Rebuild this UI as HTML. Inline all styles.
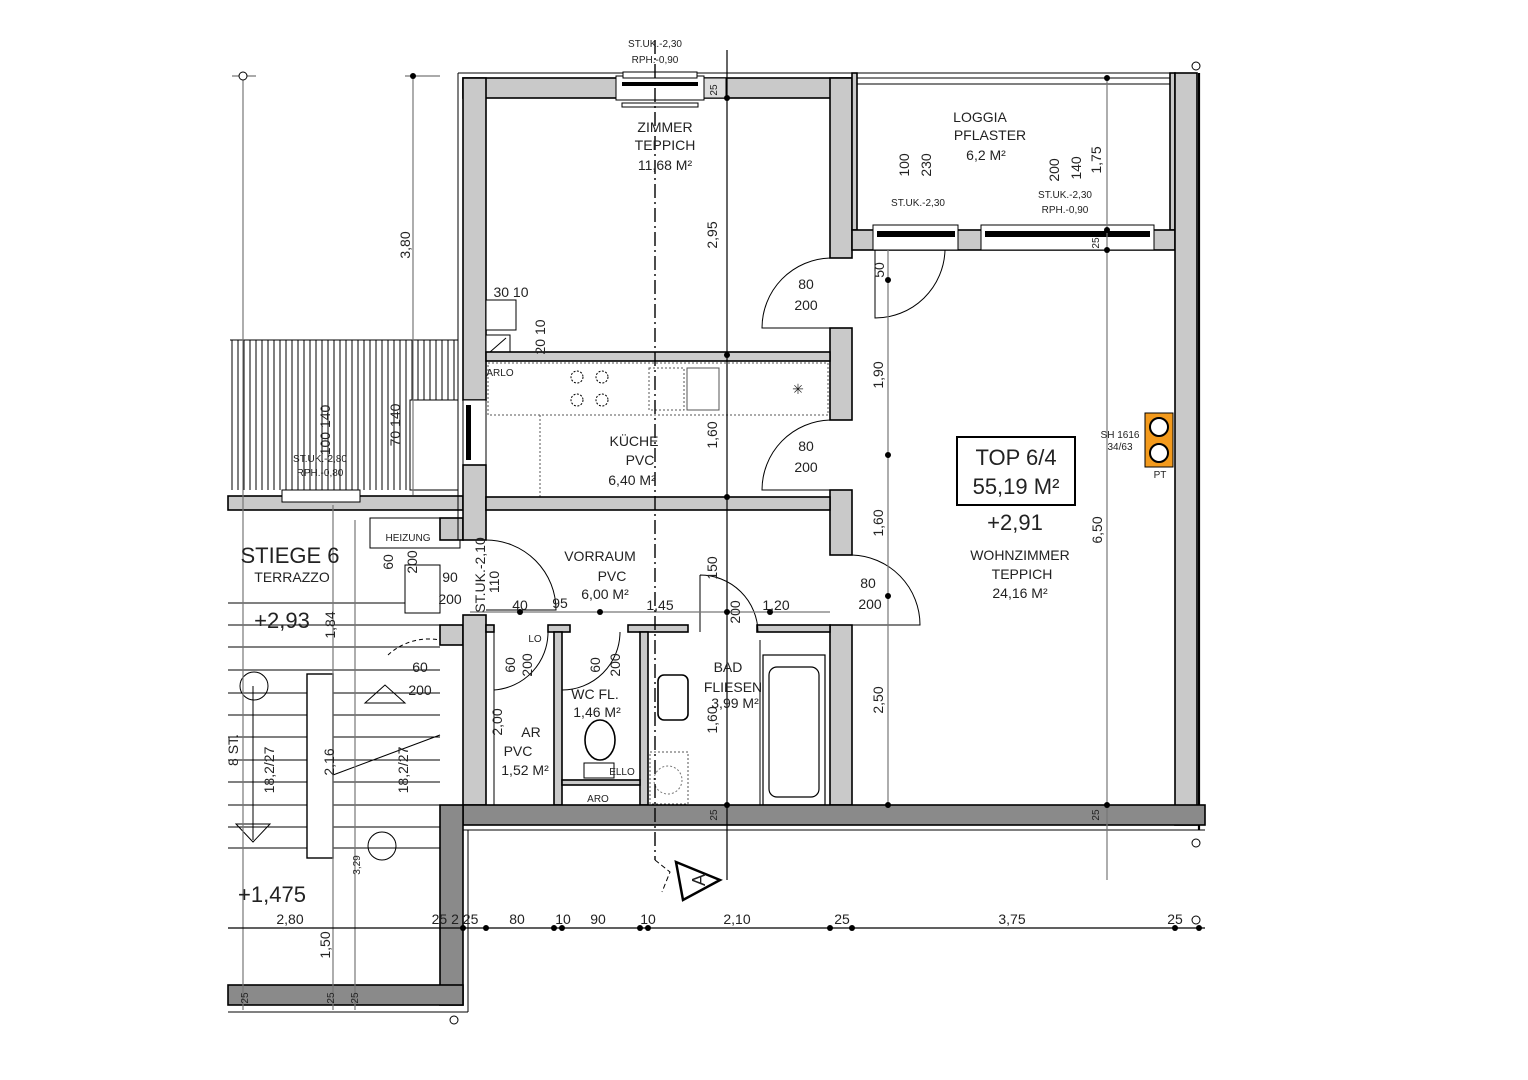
<!DOCTYPE html>
<html><head><meta charset="utf-8"><style>
html,body{margin:0;padding:0;background:#fff;}
svg{display:block}
text{font-family:"Liberation Sans Narrow","Liberation Sans",sans-serif;fill:#222;}
.t{font-size:14px;text-anchor:middle}
.s{font-size:10px;text-anchor:middle}
.b{font-size:22px;text-anchor:middle}
.w{fill:#c9c9c9;stroke:#000;stroke-width:1.6}
.d{fill:#8a8a8a;stroke:#000;stroke-width:1.6}
.l{stroke:#000;stroke-width:1;fill:none}
.g{stroke:#777;stroke-width:1.2;fill:none}
.k{stroke:#000;stroke-width:2.2;fill:none}
.dot{fill:#000}
</style></head><body>
<svg width="1528" height="1080" viewBox="0 0 1528 1080" xmlns="http://www.w3.org/2000/svg">
<rect width="1528" height="1080" fill="#fff"/>

<g stroke="#000" stroke-width="1">
<line x1="230" y1="340" x2="458" y2="340"/>
<path d="M232 340V490M238 340V490M244 340V490M250 340V490M256 340V490M262 340V490M268 340V490M274 340V490M280 340V490M286 340V490M292 340V490M298 340V490M304 340V490M310 340V490M316 340V490M322 340V490M328 340V490M334 340V490M340 340V490M346 340V490M352 340V490M358 340V490M364 340V490M370 340V490M376 340V490M382 340V490M388 340V490M394 340V490M400 340V490M406 340V490M412 340V490M418 340V490M424 340V490M430 340V490M436 340V490M442 340V490M448 340V490M454 340V490"/>
</g>
<rect x="228" y="496" width="235" height="14" class="w"/>
<rect x="282" y="490" width="78" height="12" fill="#fff" stroke="#000"/>
<rect x="410" y="400" width="48" height="90" fill="#fff" stroke="#000"/>

<g stroke="#000" stroke-width="1">
<line x1="228" y1="603" x2="440" y2="603"/><line x1="228" y1="625" x2="440" y2="625"/>
<line x1="228" y1="647" x2="440" y2="647"/><line x1="228" y1="670" x2="440" y2="670"/>
<line x1="228" y1="693" x2="440" y2="693"/><line x1="228" y1="715" x2="440" y2="715"/>
<line x1="228" y1="737" x2="440" y2="737"/><line x1="228" y1="760" x2="440" y2="760"/>
<line x1="228" y1="782" x2="440" y2="782"/><line x1="228" y1="805" x2="440" y2="805"/>
<line x1="228" y1="827" x2="440" y2="827"/><line x1="228" y1="848" x2="440" y2="848"/>
</g>
<rect x="307" y="674" width="26" height="184" fill="#fff" stroke="#000" stroke-width="1.4"/>
<line x1="333" y1="775" x2="440" y2="735" class="l"/>
<path d="M365 703 L385 685 L405 703 Z" class="l"/>
<circle cx="254" cy="686" r="14" class="l"/><circle cx="382" cy="846" r="14" class="l"/>
<path d="M236 824 L270 824 L253 842 Z" class="l"/>
<line x1="253" y1="686" x2="253" y2="840" class="l"/>
<rect x="405" y="565" width="35" height="48" fill="#fff" stroke="#000"/>
<rect x="370" y="518" width="90" height="30" fill="#fff" stroke="#000"/>
<path d="M388 655 A60 60 0 0 1 440 640" class="l" stroke-dasharray="4 3"/>
<rect x="440" y="625" width="23" height="20" class="w"/>
<rect x="440" y="518" width="23" height="22" class="w"/>

<line x1="458" y1="73" x2="852" y2="73" class="l" stroke-width="1.4"/>
<line x1="458" y1="73" x2="458" y2="540" class="l" stroke-width="1.4"/>
<rect x="463" y="78" width="389" height="20" class="w"/>
<rect x="616" y="76" width="88" height="24" fill="#fff" stroke="#000"/>
<rect x="622" y="82" width="76" height="4" fill="#000"/>
<rect x="622" y="103" width="76" height="4" fill="#fff" stroke="#000"/>
<rect x="623" y="72" width="74" height="6" fill="#fff" stroke="#000"/>
<rect x="704" y="78" width="22" height="20" fill="#ddd" stroke="#000"/>
<rect x="463" y="78" width="23" height="322" class="w"/>
<rect x="463" y="400" width="23" height="65" fill="#fff" stroke="#000"/>
<rect x="466" y="405" width="5" height="55" fill="#000"/>
<rect x="463" y="465" width="23" height="75" class="w"/>
<rect x="463" y="615" width="23" height="190" class="w"/>
<rect x="486" y="300" width="30" height="30" fill="#fff" stroke="#000"/>
<rect x="486" y="335" width="24" height="20" fill="#fff" stroke="#000"/>
<line x1="490" y1="352" x2="506" y2="338" class="l"/>
<rect x="830" y="78" width="22" height="180" class="w"/>
<rect x="830" y="328" width="22" height="92" class="w"/>
<rect x="830" y="490" width="22" height="65" class="w"/>
<rect x="830" y="625" width="22" height="180" class="w"/>
<rect x="486" y="352" width="344" height="9" fill="#ccc" stroke="#000" stroke-width="1.6"/>
<rect x="488" y="363" width="340" height="52" fill="none" stroke="#555" stroke-dasharray="2 2"/>
<path d="M540 415 V497" stroke="#555" stroke-dasharray="2 2" fill="none"/>
<g class="l" stroke-dasharray="2 1.5"><circle cx="577" cy="377" r="6"/><circle cx="602" cy="377" r="6"/><circle cx="577" cy="400" r="6"/><circle cx="602" cy="400" r="6"/></g>
<rect x="649" y="368" width="35" height="42" fill="none" stroke="#555" stroke-dasharray="2 2"/>
<rect x="687" y="368" width="32" height="42" fill="none" stroke="#555"/>
<text x="798" y="394" class="t">✳</text>
<rect x="486" y="497" width="344" height="13" class="w"/>
<rect x="486" y="625" width="8" height="7" class="w"/>
<rect x="548" y="625" width="22" height="7" class="w"/>
<rect x="628" y="625" width="60" height="7" class="w"/>
<rect x="757" y="625" width="73" height="7" class="w"/>
<rect x="554" y="632" width="8" height="173" class="w"/>
<rect x="640" y="632" width="8" height="173" class="w"/>
<rect x="562" y="780" width="78" height="5" class="w"/>
<line x1="760" y1="640" x2="760" y2="805" class="l"/>
<line x1="486" y1="632" x2="486" y2="805" class="l"/>
<line x1="494" y1="632" x2="494" y2="805" class="l"/>
<rect x="763" y="655" width="62" height="150" fill="#fff" stroke="#000" stroke-width="1.2"/>
<rect x="769" y="667" width="50" height="130" rx="8" fill="#fff" stroke="#000" stroke-width="1.2"/>
<rect x="658" y="675" width="30" height="45" rx="6" fill="#fff" stroke="#000" stroke-width="1.6"/>
<ellipse cx="600" cy="740" rx="15" ry="20" fill="#fff" stroke="#000" stroke-width="1.6"/>
<rect x="584" y="763" width="30" height="15" fill="#fff" stroke="#000"/>
<rect x="650" y="752" width="38" height="52" fill="none" stroke="#555" stroke-dasharray="2 2"/>
<circle cx="668" cy="780" r="14" fill="none" stroke="#777" stroke-dasharray="2 2"/>
<line x1="852" y1="73" x2="1175" y2="73" class="l"/>
<rect x="857" y="78" width="313" height="6" fill="#fff" stroke="#000"/>
<rect x="852" y="73" width="5" height="157" class="w"/>
<rect x="1170" y="73" width="5" height="157" class="w"/>
<rect x="852" y="230" width="323" height="20" class="w"/>
<rect x="873" y="225" width="85" height="25" fill="#fff" stroke="#000"/>
<rect x="877" y="231" width="78" height="6" fill="#000"/>
<rect x="981" y="225" width="173" height="25" fill="#fff" stroke="#000"/>
<rect x="985" y="231" width="165" height="6" fill="#000"/>
<rect x="1175" y="73" width="22" height="752" class="w"/>
<line x1="1199" y1="73" x2="1199" y2="830" class="k" stroke-width="3"/>
<rect x="463" y="805" width="742" height="20" class="d"/>
<line x1="463" y1="830" x2="1205" y2="830" class="l" stroke-width="1.4"/>
<rect x="440" y="805" width="23" height="200" class="d"/>
<rect x="228" y="985" width="235" height="20" class="d"/>
<line x1="468" y1="830" x2="468" y2="1012" class="l"/>
<line x1="228" y1="1012" x2="468" y2="1012" class="l"/>

<g class="l">
<path d="M830 258 A70 70 0 0 0 762 328 L830 328"/>
<path d="M830 420 A70 70 0 0 0 762 490 L830 490"/>
<path d="M852 555 A70 70 0 0 1 920 625 L852 625"/>
<path d="M875 250 L875 318 A70 70 0 0 0 945 250"/>
<path d="M486 540 A70 70 0 0 1 556 610 L486 610"/>
<path d="M494 632 V690 A58 58 0 0 0 548 632"/>
<path d="M562 632 V690 A58 58 0 0 0 620 632"/>
<path d="M700 575 A58 58 0 0 1 758 632 M700 575 V632"/>
</g>

<g class="g">
<line x1="243" y1="75" x2="243" y2="1010"/>
<line x1="413" y1="76" x2="413" y2="495"/>
<line x1="232" y1="76" x2="256" y2="76"/><line x1="405" y1="76" x2="440" y2="76"/>
<line x1="888" y1="250" x2="888" y2="805"/>
<line x1="1107" y1="78" x2="1107" y2="880"/>
<line x1="355" y1="520" x2="355" y2="1010"/>
<line x1="333" y1="505" x2="333" y2="1010"/>
<line x1="470" y1="612" x2="830" y2="612"/>
<line x1="228" y1="928" x2="1205" y2="928" stroke="#000"/>
</g>
<line x1="727" y1="50" x2="727" y2="880" stroke="#000" stroke-width="1.2"/>
<line x1="655" y1="40" x2="655" y2="860" stroke="#000" stroke-width="1.4" stroke-dasharray="14 4 2 4"/>
<path d="M655 860 L670 872 L662 892" class="l" stroke-dasharray="5 3"/>
<g class="dot">
<circle cx="413" cy="76" r="3"/><circle cx="727" cy="98" r="3"/><circle cx="727" cy="355" r="3"/><circle cx="727" cy="497" r="3"/><circle cx="727" cy="612" r="3"/><circle cx="727" cy="805" r="3"/>
<circle cx="888" cy="280" r="3"/><circle cx="888" cy="455" r="3"/><circle cx="888" cy="596" r="3"/><circle cx="888" cy="805" r="3"/>
<circle cx="1107" cy="78" r="3"/><circle cx="1107" cy="230" r="3"/><circle cx="1107" cy="250" r="3"/><circle cx="1107" cy="805" r="3"/>
<circle cx="463" cy="928" r="3"/><circle cx="486" cy="928" r="3"/><circle cx="554" cy="928" r="3"/><circle cx="562" cy="928" r="3"/><circle cx="640" cy="928" r="3"/><circle cx="648" cy="928" r="3"/><circle cx="830" cy="928" r="3"/><circle cx="852" cy="928" r="3"/><circle cx="1175" cy="928" r="3"/><circle cx="1199" cy="928" r="3"/>
<circle cx="520" cy="612" r="3"/><circle cx="600" cy="612" r="3"/><circle cx="770" cy="612" r="3"/>
</g>
<g fill="#fff" stroke="#000"><circle cx="243" cy="76" r="4"/><circle cx="1196" cy="66" r="4"/><circle cx="1196" cy="843" r="4"/><circle cx="454" cy="1020" r="4"/><circle cx="1196" cy="920" r="4"/></g>

<path d="M676 862 L720 880 L683 900 Z" fill="#fff" stroke="#000" stroke-width="2.5"/>
<text x="0" y="0" font-size="18" text-anchor="middle" transform="translate(699 880) rotate(-90) translate(0 6)">A</text>

<rect x="957" y="437" width="118" height="68" fill="#fff" stroke="#000" stroke-width="2"/>
<text x="1016" y="465" class="b" font-size="21">TOP 6/4</text>
<text x="1016" y="494" class="b" font-size="21">55,19 M²</text>
<rect x="1145" y="413" width="28" height="54" fill="#f39a1c" stroke="#000"/>
<circle cx="1159" cy="427" r="9" fill="#fff" stroke="#000" stroke-width="2"/>
<circle cx="1159" cy="453" r="9" fill="#fff" stroke="#000" stroke-width="2"/>
<text x="1120" y="438" class="s" font-size="8">SH 1616</text>
<text x="1120" y="450" class="s" font-size="8">34/63</text>
<text x="1160" y="478" class="s" font-size="8">PT</text>

<text x="655" y="47" class="s">ST.UK.-2,30</text>
<text x="655" y="63" class="s">RPH.-0,90</text>
<text x="665" y="132" class="t">ZIMMER</text><text x="665" y="150" class="t">TEPPICH</text><text x="665" y="170" class="t">11,68 M²</text>
<text x="980" y="122" class="t">LOGGIA</text><text x="990" y="140" class="t">PFLASTER</text><text x="986" y="160" class="t">6,2 M²</text>
<text x="918" y="206" class="s">ST.UK.-2,30</text>
<text x="1065" y="198" class="s">ST.UK.-2,30</text><text x="1065" y="213" class="s">RPH.-0,90</text>
<text x="806" y="289" class="t">80</text><text x="806" y="310" class="t">200</text>
<text x="806" y="451" class="t">80</text><text x="806" y="472" class="t">200</text>
<text x="868" y="588" class="t">80</text><text x="870" y="609" class="t">200</text>
<text x="511" y="297" class="t">30 10</text>
<text x="500" y="376" class="s" font-size="9">ARLO</text>
<text x="634" y="446" class="t">KÜCHE</text><text x="640" y="465" class="t">PVC</text><text x="632" y="485" class="t">6,40 M²</text>
<text x="1015" y="530" class="b">+2,91</text>
<text x="1020" y="560" class="t">WOHNZIMMER</text><text x="1022" y="579" class="t">TEPPICH</text><text x="1020" y="598" class="t">24,16 M²</text>
<text x="600" y="561" class="t">VORRAUM</text><text x="612" y="581" class="t">PVC</text><text x="605" y="599" class="t">6,00 M²</text>
<text x="290" y="563" class="b" font-size="24">STIEGE 6</text>
<text x="292" y="582" class="t">TERRAZZO</text>
<text x="282" y="628" class="b" font-size="24">+2,93</text>
<text x="408" y="541" class="s" font-size="8">HEIZUNG</text>
<text x="450" y="582" class="t">90</text><text x="450" y="604" class="t">200</text>
<text x="520" y="610" class="t">40</text><text x="560" y="608" class="t">95</text><text x="660" y="610" class="t">1,45</text><text x="776" y="610" class="t">1,20</text>
<text x="420" y="672" class="t">60</text><text x="420" y="695" class="t">200</text>
<text x="531" y="737" class="t">AR</text><text x="518" y="756" class="t">PVC</text><text x="525" y="775" class="t">1,52 M²</text>
<text x="535" y="642" class="s" font-size="9">LO</text>
<text x="595" y="699" class="t">WC FL.</text><text x="597" y="717" class="t">1,46 M²</text>
<text x="622" y="775" class="s" font-size="9">ELLO</text>
<text x="598" y="802" class="s" font-size="9">ARO</text>
<text x="728" y="672" class="t">BAD</text><text x="733" y="692" class="t">FLIESEN</text><text x="735" y="708" class="t">3,99 M²</text>
<text x="272" y="902" class="b" font-size="24">+1,475</text>
<text x="290" y="924" class="t">2,80</text><text x="455" y="924" class="t">25 2 25</text><text x="517" y="924" class="t">80</text>
<text x="563" y="924" class="t">10</text><text x="598" y="924" class="t">90</text><text x="648" y="924" class="t">10</text>
<text x="737" y="924" class="t">2,10</text><text x="842" y="924" class="t">25</text><text x="1012" y="924" class="t">3,75</text><text x="1175" y="924" class="t">25</text>
<g>
<text class="t" transform="translate(410 245) rotate(-90)">3,80</text>
<text class="t" transform="translate(717 235) rotate(-90)">2,95</text>
<text class="s" transform="translate(717 90) rotate(-90)">25</text>
<text class="t" transform="translate(909 165) rotate(-90)">100</text>
<text class="t" transform="translate(931 165) rotate(-90)">230</text>
<text class="t" transform="translate(1059 170) rotate(-90)">200</text>
<text class="t" transform="translate(1081 168) rotate(-90)">140</text>
<text class="t" transform="translate(1101 160) rotate(-90)">1,75</text>
<text class="s" transform="translate(1099 243) rotate(-90)">25</text>
<text class="t" transform="translate(884 270) rotate(-90)">50</text>
<text class="t" transform="translate(545 337) rotate(-90)">20 10</text>
<text class="t" transform="translate(717 435) rotate(-90)">1,60</text>
<text class="t" transform="translate(883 375) rotate(-90)">1,90</text>
<text class="t" transform="translate(883 523) rotate(-90)">1,60</text>
<text class="t" transform="translate(1102 530) rotate(-90)">6,50</text>
<text class="t" transform="translate(883 700) rotate(-90)">2,50</text>
<text class="t" transform="translate(717 568) rotate(-90)">150</text>
<text class="t" transform="translate(502 722) rotate(-90)">2,00</text>
<text class="t" transform="translate(717 720) rotate(-90)">1,60</text>
<text class="t" transform="translate(532 665) rotate(-90)">200</text>
<text class="t" transform="translate(515 665) rotate(-90)">60</text>
<text class="t" transform="translate(620 665) rotate(-90)">200</text>
<text class="t" transform="translate(600 665) rotate(-90)">60</text>
<text class="t" transform="translate(740 612) rotate(-90)">200</text>
<text class="t" transform="translate(335 625) rotate(-90)">1,84</text>
<text class="t" transform="translate(274 770) rotate(-90)">18,2/27</text>
<text class="t" transform="translate(408 770) rotate(-90)">18,2/27</text>
<text class="t" transform="translate(238 750) rotate(-90)">8 ST.</text>
<text class="t" transform="translate(334 762) rotate(-90)">2,16</text>
<text class="t" transform="translate(330 945) rotate(-90)">1,50</text>
<text class="s" transform="translate(360 865) rotate(-90)">3,29</text>
<text class="t" transform="translate(417 562) rotate(-90)">200</text>
<text class="t" transform="translate(393 562) rotate(-90)">60</text>
<text class="t" transform="translate(485 575) rotate(-90)">ST.UK.-2,10</text>
<text class="t" transform="translate(499 582) rotate(-90)">110</text>
<text class="t" transform="translate(400 425) rotate(-90)">70 140</text>
<text class="t" transform="translate(330 430) rotate(-90)">100 140</text>
<text class="s" transform="translate(248 998) rotate(-90)">25</text>
<text class="s" transform="translate(334 998) rotate(-90)">25</text>
<text class="s" transform="translate(358 998) rotate(-90)">25</text>
<text class="s" transform="translate(717 815) rotate(-90)">25</text>
<text class="s" transform="translate(1099 815) rotate(-90)">25</text>
</g>
<text x="320" y="462" class="s">ST.UK.-2,80</text><text x="320" y="476" class="s">RPH.-0,80</text>
</svg>
</body></html>
